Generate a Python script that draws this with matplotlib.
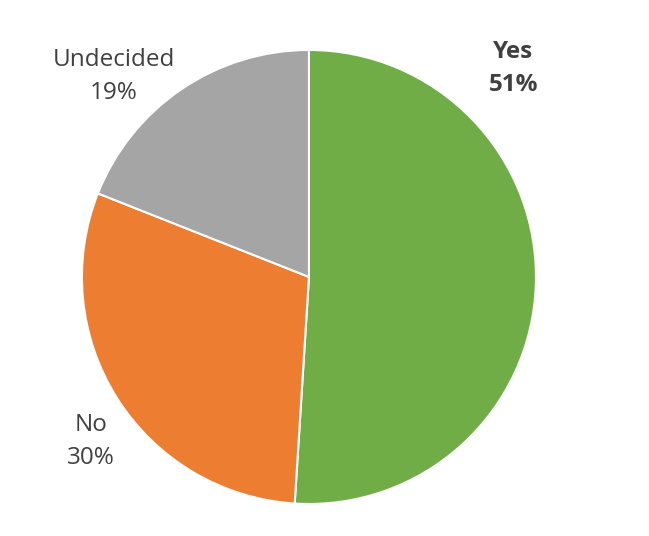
import matplotlib.pyplot as plt

labels = ["Yes", "No", "Undecided"]
shares = [51, 30, 19]
colors = ["#70AD47", "#ED7D31", "#A5A5A5"]
# label positions (in pie radius units)
label_pos = [(0.90, 0.92), (-0.96, -0.725), (-0.86, 0.885)]
bold = [True, False, False]

plt.rcParams['font.family'] = ['Open Sans', 'DejaVu Sans']

fig = plt.figure(figsize=(6.49, 5.36), dpi=100)
ax = fig.add_axes([0, 0, 1, 1])

ax.pie(shares, colors=colors, startangle=90, counterclock=False,
       radius=1.0, wedgeprops=dict(edgecolor="white", linewidth=1.5))

for name, val, (x, y), b in zip(labels, shares, label_pos, bold):
    ax.text(x, y, f"{name}\n{val}%", ha="center", va="center",
            fontsize=17.5, color="#404040", linespacing=1.5,
            fontweight="bold" if b else "normal")

ax.set_xlim(-1.361, 1.498)
ax.set_ylim(-1.141, 1.220)
ax.set_aspect("equal")
ax.axis("off")

fig.savefig("out.png", dpi=100)
